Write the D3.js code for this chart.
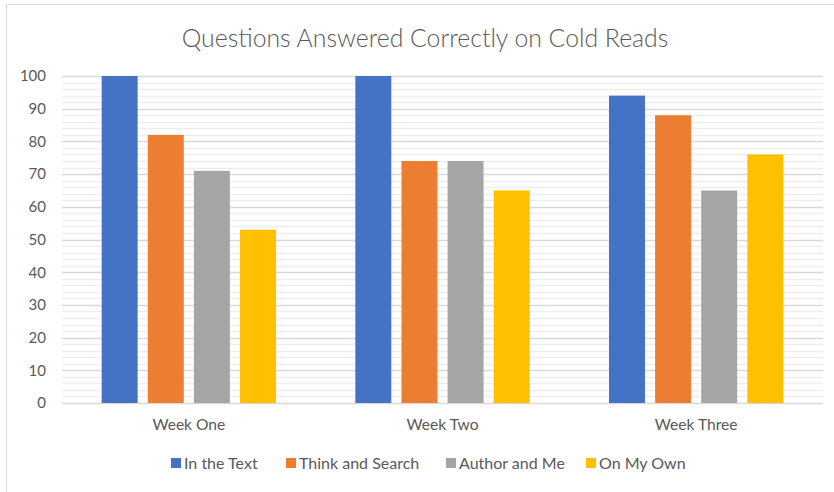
<!DOCTYPE html>
<html>
<head>
<meta charset="utf-8">
<script src="https://cdn.jsdelivr.net/npm/d3@7"></script>
<style>
  html, body { margin: 0; padding: 0; background: #fff; }
  svg { display: block; font-family: Lato, "Open Sans", sans-serif; }
</style>
</head>
<body>
<svg id="chart" width="834" height="492"></svg>
<script>
// Chart data
const categories = ["Week One", "Week Two", "Week Three"];
const seriesNames = ["In the Text", "Think and Search", "Author and Me", "On My Own"];
const inTheText = [100, 100, 94];
const thinkAndSearch = [82, 74, 88];
const authorAndMe = [71, 74, 65];
const onMyOwn = [53, 65, 76];
const yTicks = [0, 10, 20, 30, 40, 50, 60, 70, 80, 90, 100];
const minorTicks = d3.range(0, 101, 2);
const colors = ["#4472c4", "#ed7d31", "#a5a5a5", "#ffc000"];
const title = "Questions Answered Correctly on Cold Reads";

const seriesValues = [inTheText, thinkAndSearch, authorAndMe, onMyOwn];

const svg = d3.select("#chart");
const W = 834, H = 492;
const plot = { left: 62, right: 823, top: 76, bottom: 403 };

// Chart frame (top and left edges)
svg.append("line").attr("x1", 6.5).attr("x2", W).attr("y1", 4.5).attr("y2", 4.5)
  .attr("stroke", "#d9d9d9");
svg.append("line").attr("x1", 6.5).attr("x2", 6.5).attr("y1", 4.5).attr("y2", H)
  .attr("stroke", "#d9d9d9");

const x0 = d3.scaleBand().domain(categories).range([plot.left, plot.right]).padding(0);
const x1 = d3.scaleBand().domain(seriesNames)
  .range([0, x0.bandwidth()]).paddingInner(0.22).paddingOuter(0.86);
const y = d3.scaleLinear().domain([0, 100]).range([plot.bottom, plot.top]);

// Minor gridlines
svg.append("g").selectAll("line").data(minorTicks.filter(d => d % 10 !== 0)).join("line")
  .attr("x1", plot.left).attr("x2", plot.right)
  .attr("y1", d => Math.round(y(d)) + 0.5).attr("y2", d => Math.round(y(d)) + 0.5)
  .attr("stroke", "#ededed").attr("stroke-width", 1.5);

// Major gridlines
svg.append("g").selectAll("line").data(yTicks).join("line")
  .attr("x1", plot.left).attr("x2", plot.right)
  .attr("y1", d => Math.round(y(d)) + 0.5).attr("y2", d => Math.round(y(d)) + 0.5)
  .attr("stroke", "#d9d9d9").attr("stroke-width", 1.5);

// Y axis labels
const yAxis = d3.axisLeft(y).tickValues(yTicks).tickSize(0).tickPadding(16);
const ya = svg.append("g").attr("transform", `translate(${plot.left},0)`).call(yAxis);
ya.select(".domain").remove();
ya.selectAll("text").attr("fill", "#595959").style("font-size", "15px")
  .style("font-family", "Lato, 'Open Sans', sans-serif");

// Bars
const groups = svg.append("g").selectAll("g").data(categories).join("g")
  .attr("transform", d => `translate(${x0(d)},0)`);
groups.selectAll("rect")
  .data((c, ci) => seriesNames.map((s, si) => ({ s, si, v: seriesValues[si][ci] })))
  .join("rect")
  .attr("x", d => x1(d.s))
  .attr("width", x1.bandwidth())
  .attr("y", d => y(d.v))
  .attr("height", d => y(0) - y(d.v))
  .attr("fill", d => colors[d.si]);

// Category labels
const xAxis = d3.axisBottom(x0).tickSize(0).tickPadding(16);
const xa = svg.append("g").attr("transform", `translate(0,${plot.bottom})`).call(xAxis);
xa.select(".domain").remove();
xa.selectAll("text").attr("fill", "#595959").style("font-size", "15.6px")
  .style("font-family", "Lato, 'Open Sans', sans-serif");

// Title
svg.append("text").attr("x", 425).attr("y", 47).attr("text-anchor", "middle")
  .attr("fill", "#595959").style("font-size", "24.8px").style("font-weight", 300)
  .text(title);

// Legend
const legendX = [171, 286, 446, 586];
const legend = svg.append("g").selectAll("g").data(seriesNames).join("g")
  .attr("transform", (d, i) => `translate(${legendX[i]},458)`);
legend.append("rect").attr("width", 10).attr("height", 10)
  .attr("fill", (d, i) => colors[i]);
legend.append("text").attr("x", 13).attr("y", 10.5).attr("fill", "#595959")
  .style("font-size", "16px").text(d => d);
</script>
</body>
</html>
